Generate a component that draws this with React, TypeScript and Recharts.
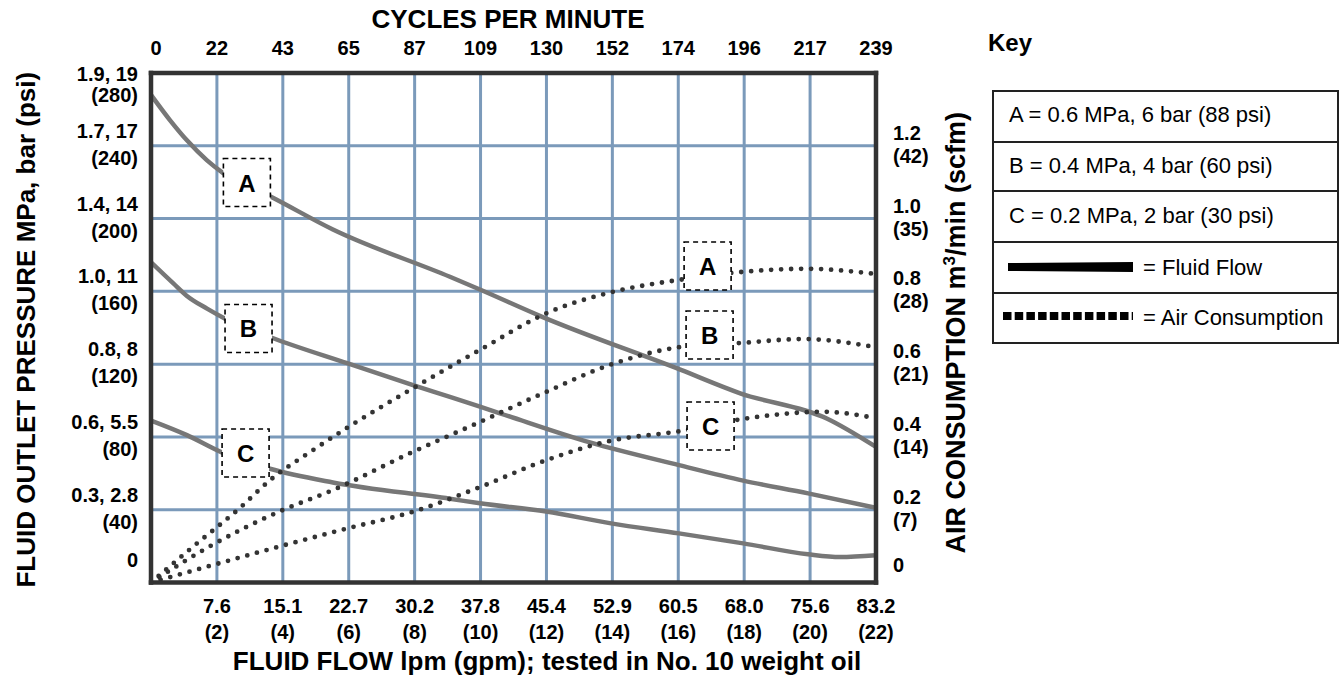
import React from 'react';
import { LineChart, Line, XAxis, YAxis, CartesianGrid, ReferenceDot, Label } from 'recharts';

// axis ticks and labels
const gpmTicks = [0, 2, 4, 6, 8, 10, 12, 14, 16, 18, 20, 22];
const lpmLabels = ['', '7.6', '15.1', '22.7', '30.2', '37.8', '45.4', '52.9', '60.5', '68.0', '75.6', '83.2'];
const gpmLabels = ['', '(2)', '(4)', '(6)', '(8)', '(10)', '(12)', '(14)', '(16)', '(18)', '(20)', '(22)'];
const cpmLabels = ['0', '22', '43', '65', '87', '109', '130', '152', '174', '196', '217', '239'];

const psiTicks = [0, 40, 80, 120, 160, 200, 240, 280];
const mpaBarLabels = ['0', '0.3, 2.8', '0.6, 5.5', '0.8, 8', '1.0, 11', '1.4, 14', '1.7, 17', '1.9, 19'];
const psiLabels = ['', '(40)', '(80)', '(120)', '(160)', '(200)', '(240)', '(280)'];

const airTicks = [0, 0.2, 0.4, 0.6, 0.8, 1.0, 1.2];
const airLabels = ['0', '0.2', '0.4', '0.6', '0.8', '1.0', '1.2'];
const scfmLabels = ['', '(7)', '(14)', '(21)', '(28)', '(35)', '(42)'];

// fluid flow curves: outlet pressure (psi) vs flow (gpm)
const fluidA = [
  { gpm: 0, psi: 268 }, { gpm: 0.58, psi: 254 }, { gpm: 1.09, psi: 243 }, { gpm: 1.7, psi: 232 },
  { gpm: 2.19, psi: 225 }, { gpm: 3.64, psi: 212 }, { gpm: 5.52, psi: 194 }, { gpm: 9.07, psi: 168 },
  { gpm: 9.98, psi: 161 }, { gpm: 11.87, psi: 146 }, { gpm: 16.06, psi: 117 }, { gpm: 17.88, psi: 104 },
  { gpm: 20.52, psi: 90 }, { gpm: 22, psi: 74.5 },
];
const fluidB = [
  { gpm: 0, psi: 176 }, { gpm: 0.67, psi: 164.5 }, { gpm: 1.09, psi: 157.5 }, { gpm: 1.7, psi: 150.5 },
  { gpm: 2.25, psi: 145 }, { gpm: 3.67, psi: 134.5 }, { gpm: 5.95, psi: 120.5 }, { gpm: 7.95, psi: 108.5 },
  { gpm: 9.07, psi: 102 }, { gpm: 10.59, psi: 93 }, { gpm: 13.32, psi: 77 }, { gpm: 16.02, psi: 64.5 },
  { gpm: 17.97, psi: 56 }, { gpm: 19.94, psi: 49 }, { gpm: 22, psi: 41 },
];
const fluidC = [
  { gpm: 0, psi: 89 }, { gpm: 1.09, psi: 81 }, { gpm: 2.15, psi: 71.5 }, { gpm: 3.61, psi: 62.5 },
  { gpm: 5.52, psi: 55 }, { gpm: 9.07, psi: 46 }, { gpm: 9.98, psi: 43.5 }, { gpm: 11.99, psi: 39 },
  { gpm: 13.96, psi: 32.5 }, { gpm: 16.02, psi: 27 }, { gpm: 17.97, psi: 21.5 }, { gpm: 19.94, psi: 15.5 },
  { gpm: 20.91, psi: 14 }, { gpm: 22, psi: 15 },
];

// air consumption curves: m3/min vs flow (gpm)
const airA = [
  { gpm: 0, air: 0 }, { gpm: 1.27, air: 0.098 }, { gpm: 2.7, air: 0.205 }, { gpm: 3.61, air: 0.281 },
  { gpm: 4.92, air: 0.364 }, { gpm: 5.95, air: 0.425 }, { gpm: 7.86, air: 0.529 }, { gpm: 9.98, air: 0.639 },
  { gpm: 12.08, air: 0.743 }, { gpm: 13.9, air: 0.796 }, { gpm: 16.06, air: 0.832 }, { gpm: 17.88, air: 0.853 },
  { gpm: 19.91, air: 0.862 }, { gpm: 21.97, air: 0.848 },
];
const airB = [
  { gpm: 0, air: 0 }, { gpm: 1.7, air: 0.095 }, { gpm: 3.92, air: 0.196 }, { gpm: 5.52, air: 0.254 },
  { gpm: 7.95, air: 0.359 }, { gpm: 9.98, air: 0.441 }, { gpm: 11.9, air: 0.52 }, { gpm: 13.93, air: 0.598 },
  { gpm: 16.06, air: 0.647 }, { gpm: 17.88, air: 0.658 }, { gpm: 19.79, air: 0.669 }, { gpm: 21.97, air: 0.647 },
];
const airC = [
  { gpm: 0, air: 0 }, { gpm: 1.88, air: 0.048 }, { gpm: 3.82, air: 0.097 }, { gpm: 5.89, air: 0.147 },
  { gpm: 8.01, air: 0.196 }, { gpm: 9.98, air: 0.262 }, { gpm: 12.02, air: 0.337 }, { gpm: 13.93, air: 0.389 },
  { gpm: 16.06, air: 0.416 }, { gpm: 17.94, air: 0.449 }, { gpm: 20.39, air: 0.469 }, { gpm: 21.97, air: 0.452 },
];

// curve tags (dashed boxes), placed in gpm / psi
const curveTags = [
  { tag: 'A', gpm: 2.91, psi: 219.8 },
  { tag: 'B', gpm: 2.96, psi: 139.6 },
  { tag: 'C', gpm: 2.87, psi: 71.2 },
  { tag: 'A', gpm: 16.89, psi: 173.9 },
  { tag: 'B', gpm: 16.95, psi: 136 },
  { tag: 'C', gpm: 16.98, psi: 86 },
];

const keyRows = ['A = 0.6 MPa, 6 bar (88 psi)', 'B = 0.4 MPa, 4 bar (60 psi)', 'C = 0.2 MPa, 2 bar (30 psi)'];

const FONT = '"Liberation Sans", Arial, Helvetica, sans-serif';
const GRID = '#7b9aba';
const FRAME = '#333333';
const tickText = { fontFamily: FONT, fontSize: 20, fontWeight: 700, fill: '#000' };
const titleText = { fontFamily: FONT, fontSize: 26, fontWeight: 700, fill: '#000' };

const PressureTick = (props: any) => {
  const { x, y, payload } = props;
  const i = psiTicks.indexOf(payload.value);
  if (i < 0) return null;
  if (!psiLabels[i]) {
    return <text x={x} y={y - 15.5} textAnchor="end" {...tickText}>{mpaBarLabels[i]}</text>;
  }
  const top = i === psiTicks.length - 1;
  return (
    <g>
      <text x={x} y={top ? y + 8 : y - 8} textAnchor="end" {...tickText}>{mpaBarLabels[i]}</text>
      <text x={x} y={top ? y + 29 : y + 19} textAnchor="end" {...tickText}>{psiLabels[i]}</text>
    </g>
  );
};

const AirTick = (props: any) => {
  const { x, y, payload } = props;
  const i = airTicks.findIndex((t) => Math.abs(t - payload.value) < 1e-6);
  if (i < 0) return null;
  if (!scfmLabels[i]) {
    return <text x={x} y={y - 11} textAnchor="start" {...tickText}>{airLabels[i]}</text>;
  }
  return (
    <g>
      <text x={x} y={y - 6} textAnchor="start" {...tickText}>{airLabels[i]}</text>
      <text x={x} y={y + 17} textAnchor="start" {...tickText}>{scfmLabels[i]}</text>
    </g>
  );
};

const FlowTick = (props: any) => {
  const { x, y, payload } = props;
  const i = gpmTicks.indexOf(payload.value);
  if (i < 0 || !lpmLabels[i]) return null;
  return (
    <g>
      <text x={x} y={y + 28.5} textAnchor="middle" {...tickText}>{lpmLabels[i]}</text>
      <text x={x} y={y + 54.5} textAnchor="middle" {...tickText}>{gpmLabels[i]}</text>
    </g>
  );
};

const CycleTick = (props: any) => {
  const { x, y, payload } = props;
  const i = gpmTicks.indexOf(payload.value);
  if (i < 0) return null;
  return (
    <text x={i === 0 ? x + 5 : x} y={y - 16} textAnchor="middle" {...tickText}>{cpmLabels[i]}</text>
  );
};

const TagBox = (tag: string) => (props: any) => {
  const { cx, cy } = props;
  if (cx == null || cy == null) return null;
  return (
    <g>
      <rect x={cx - 23.5} y={cy - 24} width={47} height={48} fill="#fff" stroke="#000" strokeWidth={1.6} strokeDasharray="5 4" />
      <text x={cx} y={cy + 9} textAnchor="middle" fontFamily={FONT} fontSize={24} fontWeight={700} fill="#000">{tag}</text>
    </g>
  );
};

const KeyBox = () => (
  <svg width={355} height={325} style={{ position: 'absolute', left: 985, top: 25 }}>
    <text x={3} y={26} fontFamily={FONT} fontSize={24} fontWeight={700} fill="#000">Key</text>
    <rect x={8} y={66} width={345} height={252} fill="#fff" stroke="#222" strokeWidth={2} />
    {[117, 166, 217, 268].map((ly) => (
      <line key={ly} x1={8} x2={353} y1={ly} y2={ly} stroke="#222" strokeWidth={2} />
    ))}
    {keyRows.map((row, i) => (
      <text key={row} x={24} y={97 + i * 50.5} fontFamily={FONT} fontSize={22} fill="#000">{row}</text>
    ))}
    <polygon points="23,238 148,237 148,247 23,246" fill="#000" />
    <text x={158} y={250} fontFamily={FONT} fontSize={22} fill="#000">= Fluid Flow</text>
    <line x1={18} x2={148} y1={291} y2={291} stroke="#000" strokeWidth={8} strokeDasharray="8.5 3.2" />
    <text x={158} y={300} fontFamily={FONT} fontSize={22} fill="#000">= Air Consumption</text>
  </svg>
);

export default function App() {
  return (
    <div style={{ position: 'absolute', left: 0, top: 0, width: 1340, height: 680, background: '#fff' }}>
      <LineChart width={1340} height={680} margin={{ top: 33, right: 394, bottom: 37.5, left: 31 }}>
        <CartesianGrid xAxisId="gpm" yAxisId="psi" stroke={GRID} strokeWidth={3} />
        <XAxis
          xAxisId="gpm"
          type="number"
          dataKey="gpm"
          domain={[0, 22]}
          allowDataOverflow
          ticks={gpmTicks}
          interval={0}
          height={60}
          tickSize={0}
          tickLine={false}
          axisLine={{ stroke: FRAME, strokeWidth: 4.5, strokeLinecap: 'square' }}
          tick={FlowTick}
        >
          <Label
            content={({ viewBox }: any) => (
              <text x={viewBox.x + viewBox.width / 2 + 33.5} y={viewBox.y + 87.5} textAnchor="middle" {...titleText}>
                FLUID FLOW lpm (gpm); tested in No. 10 weight oil
              </text>
            )}
          />
        </XAxis>
        <XAxis
          xAxisId="cpm"
          orientation="top"
          type="number"
          dataKey="gpm"
          domain={[0, 22]}
          allowDataOverflow
          ticks={gpmTicks}
          interval={0}
          height={40}
          tickSize={0}
          tickLine={false}
          axisLine={{ stroke: FRAME, strokeWidth: 4.5, strokeLinecap: 'square' }}
          tick={CycleTick}
        >
          <Label
            content={({ viewBox }: any) => (
              <text x={viewBox.x + viewBox.width / 2 - 5.5} y={28} textAnchor="middle" {...titleText}>
                CYCLES PER MINUTE
              </text>
            )}
          />
        </XAxis>
        <YAxis
          yAxisId="psi"
          orientation="left"
          type="number"
          domain={[0, 280]}
          allowDataOverflow
          ticks={psiTicks}
          interval={0}
          width={120}
          tickSize={0}
          tickMargin={13}
          tickLine={false}
          axisLine={{ stroke: FRAME, strokeWidth: 4.5, strokeLinecap: 'square' }}
          tick={PressureTick}
        >
          <Label
            content={({ viewBox }: any) => {
              const cx = viewBox.x + 4;
              const cy = viewBox.y + viewBox.height / 2 + 2;
              return (
                <text x={cx} y={cy} transform={`rotate(-90 ${cx} ${cy})`} textAnchor="middle" {...titleText}>
                  FLUID OUTLET PRESSURE MPa, bar (psi)
                </text>
              );
            }}
          />
        </YAxis>
        <YAxis
          yAxisId="air"
          orientation="right"
          type="number"
          domain={[0, 1.4]}
          allowDataOverflow
          ticks={airTicks}
          interval={0}
          width={70}
          tickSize={0}
          tickMargin={17}
          tickLine={false}
          axisLine={{ stroke: FRAME, strokeWidth: 4.5, strokeLinecap: 'square' }}
          tick={AirTick}
        >
          <Label
            content={({ viewBox }: any) => {
              const cx = viewBox.x + 89;
              const cy = viewBox.y + viewBox.height / 2 + 5;
              return (
                <text x={cx} y={cy} transform={`rotate(-90 ${cx} ${cy})`} textAnchor="middle" {...titleText} fontSize={27}>
                  AIR CONSUMPTION m
                  <tspan fontSize={17} dy={-10}>3</tspan>
                  <tspan dy={10}>/min (scfm)</tspan>
                </text>
              );
            }}
          />
        </YAxis>

        {/* the cycles-per-minute scale shares the flow axis; this series only anchors it */}
        <Line
          data={fluidA}
          xAxisId="cpm"
          yAxisId="psi"
          dataKey="psi"
          stroke="none"
          dot={false}
          activeDot={false}
          legendType="none"
          isAnimationActive={false}
        />

        {[fluidA, fluidB, fluidC].map((d, i) => (
          <Line
            key={`fluid-${i}`}
            data={d}
            xAxisId="gpm"
            yAxisId="psi"
            dataKey="psi"
            type="monotone"
            stroke="#777777"
            strokeWidth={4.5}
            dot={false}
            activeDot={false}
            isAnimationActive={false}
          />
        ))}
        {[airA, airB, airC].map((d, i) => (
          <Line
            key={`air-${i}`}
            data={d}
            xAxisId="gpm"
            yAxisId="air"
            dataKey="air"
            type="monotone"
            stroke="#333333"
            strokeWidth={4.8}
            strokeDasharray="0 10"
            strokeLinecap="round"
            dot={false}
            activeDot={false}
            isAnimationActive={false}
          />
        ))}

        {curveTags.map((t, i) => (
          <ReferenceDot
            key={`tag-${i}`}
            xAxisId="gpm"
            yAxisId="psi"
            x={t.gpm}
            y={t.psi}
            r={0}
            shape={TagBox(t.tag)}
          />
        ))}
      </LineChart>
      <KeyBox />
    </div>
  );
}
